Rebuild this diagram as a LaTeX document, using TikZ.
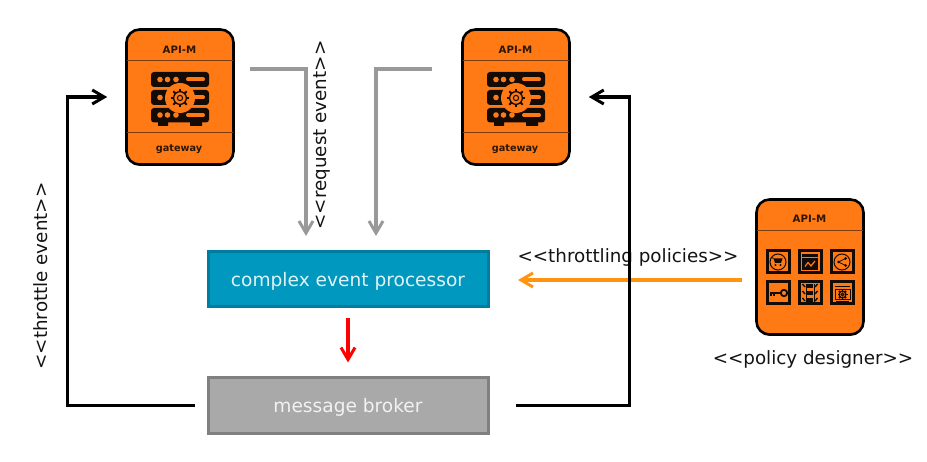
\documentclass[tikz,border=0pt]{standalone}
\usepackage{fontspec}
\setmainfont{DejaVu Sans}
\usetikzlibrary{arrows.meta,shadows}
\definecolor{apiorange}{HTML}{FF7A14}
\definecolor{icondark}{HTML}{140B05}
\definecolor{cepfill}{HTML}{0098BF}
\definecolor{cepline}{HTML}{007D9E}
\definecolor{brokerfill}{HTML}{A9A9A9}
\definecolor{brokerline}{HTML}{808080}
\definecolor{flowgrey}{HTML}{999999}
\definecolor{floworange}{HTML}{FF9411}
\tikzset{
  apibox/.style={draw=black,fill=apiorange,line width=2.6pt,rounded corners=13pt,minimum width=107pt,minimum height=135pt,inner sep=0pt,
    drop shadow={shadow xshift=0pt,shadow yshift=-1.5pt,opacity=.45,fill=black}},
  apititle/.style={font=\fontsize{10.2}{12}\bfseries\selectfont,text=icondark!90!apiorange,inner sep=0pt},
  apifoot/.style={apititle,font=\fontsize{9.7}{12}\bfseries\selectfont},
  procbox/.style={minimum width=280pt,minimum height=55pt,line width=3pt,inner sep=0pt},
  proclabel/.style={font=\fontsize{18.6}{22}\selectfont,inner sep=0pt},
  caption/.style={font=\fontsize{18.3}{22}\selectfont,text=black!92,inner sep=0pt},
  flow/.style={line width=3.2pt,-{Straight Barb[length=12pt,width=14pt,line width=3pt]}},
  greyflow/.style={flow,color=flowgrey},
  blackflow/.style={flow,color=black},
  tileicon/.style={draw=icondark,line width=3pt},
  fineline/.style={draw=icondark,line width=1pt},
  divider/.style={draw=icondark!55!apiorange,line width=1pt},
}
\newcommand{\gearart}[3]{% x y r
  \foreach \a in {0,45,...,315}{\draw[icondark,line width=1.8pt] (#1,#2)++(\a:#3*0.75) -- ++(\a:#3*0.5);}
  \draw[icondark,line width=1.3pt,fill=apiorange] (#1,#2) circle[radius=#3*0.85];
  \draw[icondark,line width=1pt] (#1,#2) circle[radius=#3*0.35];
}
\newcommand{\serverart}[2]{% origin = left-top of box
  \begin{scope}[shift={(#1,#2)}]
    \foreach \ya/\yb in {43/58,61/76,79/93.5}{\fill[icondark,rounded corners=3pt] (25,\ya) rectangle (83,\yb);}
    \fill[icondark] (32,93) rectangle (42,97) (64,93) rectangle (76,97);
    \foreach \yy in {50.5,86}{
      \foreach \xx in {34,41.5,50}{\fill[apiorange] (\xx,\yy) circle[radius=2.8];}
      \draw[apiorange,line width=4pt,line cap=round] (62,\yy) -- (77,\yy);
    }
    \fill[apiorange] (34,68.5) circle[radius=2.8];
    \draw[apiorange,line width=4pt,line cap=round] (62,68.5) -- (77,68.5);
    \fill[apiorange] (54,69) circle[radius=15];
    \gearart{54}{69}{7.5}
  \end{scope}
}
\begin{document}
\begin{tikzpicture}[x=1pt,y=-1pt]
\useasboundingbox (0,0) rectangle (927,462);
\fill[white] (0,0) rectangle (927,462);

% flows drawn beneath the text and the black connectors
\coordinate (pdout) at (742,280);
\coordinate (cepin) at (518,280);
\draw[flow,color=floworange] (pdout) -- (cepin);

% gateways
\node[apibox] (gw1) at (180,97) {};
\node[apibox] (gw2) at (516,97) {};
\node[apibox] (pd) at (810,267) {};

\foreach \g/\ox in {gw1/126,gw2/462}{
  \draw[divider] (\ox+1,61) -- (\ox+107,61);
  \draw[divider] (\ox+1,133) -- (\ox+107,133);
  \serverart{\ox}{29}
}
\node[apititle] (t1) at (179.5,49.5) {API-M};
\node[apifoot] (b1) at (179,149) {gateway};
\node[apititle] (t2) at (515.5,49.5) {API-M};
\node[apifoot] (b2) at (515,149) {gateway};

% policy designer
\draw[divider] (757,231) -- (863,231);
\node[apititle] (t3) at (809.5,219) {API-M};
\foreach \x/\y in {767/251,799/251,831/251,767/282,799/282,831/282}{
  \draw[tileicon] (\x,\y) rectangle ++(22,22);
}
% cart
\draw[fineline] (778,262) circle[radius=8];
\fill[icondark] (773.5,258.5) -- (782.5,258.5) -- (781,263) -- (775,263) -- cycle;
\draw[icondark,line width=.9pt] (771.5,257.5) -- (773.5,258.5);
\fill[icondark] (775.5,265) circle[radius=1.1] (780.5,265) circle[radius=1.1];
% browser with chart
\fill[icondark] (802,254) rectangle (818,270);
\draw[apiorange,line width=.8pt] (802,257.5) -- (818,257.5);
\draw[apiorange,line width=1.2pt] (805,266.5) -- (808,262.5) -- (811,266) -- (815,261);
% share
\draw[fineline] (842,262) circle[radius=8];
\fill[icondark] (838.5,262) circle[radius=1.5] (845.5,258.5) circle[radius=1.5] (845.5,265.5) circle[radius=1.5];
\draw[icondark,line width=.7pt] (845.5,258.5) -- (838.5,262) -- (845.5,265.5);
% key
\draw[icondark,line width=1.8pt] (784,293) circle[radius=3.2];
\draw[icondark,line width=2.2pt] (780.5,293) -- (770,293);
\draw[icondark,line width=1.4pt] (771,293) -- (771,296) (774,293) -- (774,296);
% grid panel
\foreach \yy in {286,293,300}{
  \fill[icondark] (807,\yy-2) rectangle (813,\yy+2);
  \draw[icondark,line width=1.4pt] (802.5,\yy-2) -- (805,\yy+1) (815,\yy+1) -- (817.5,\yy-2);
}
\draw[icondark,line width=1pt] (806,284) -- (806,302) (814,284) -- (814,302);
% gear panel
\draw[icondark,line width=1.6pt] (834.5,286.5) -- (850,286.5);
\draw[icondark,line width=1pt] (835,290) rectangle (850,300);
\draw[icondark,line width=1.4pt] (836,302) -- (849,302);
\gearart{842.5}{294.5}{4}

% processors
\node[procbox,draw=cepline,fill=cepfill] (cep) at (348,279.5) {};
\node[proclabel,text=white!88!cepfill] (ceptext) at (348,281) {complex event processor};
\node[procbox,draw=brokerline,fill=brokerfill] (broker) at (348,405.5) {};
\node[proclabel,text=white!85!brokerfill] (brokertext) at (348,407) {message broker};

% grey flows
\coordinate (g1out) at (250,69);
\coordinate (g2out) at (432,69);
\coordinate (c1) at (306,236);
\coordinate (c2) at (376,236);
\draw[greyflow] (g1out) -| (c1);
\draw[greyflow] (g2out) -| (c2);

% red flow
\draw[flow,color=red,shorten <=10pt,shorten >=14pt] (cep.south) -- (broker.north);

% labels
\node[caption,rotate=90] (reqlabel) at (322,135) {<{}<request event>{}>};
\node[caption,rotate=90] (thrlabel) at (41,276) {<{}<throttle event>{}>};
\node[caption] (pollabel) at (628,257) {<{}<throttling policies>{}>};
\node[caption] (deslabel) at (813,359) {<{}<policy designer>{}>};

% black flows
\draw[blackflow,shorten <=12pt,shorten >=18pt,line join=miter] (broker.west) -- ++(-139,0) |- (gw1.west);
\draw[blackflow,shorten <=26pt,shorten >=18pt,line join=miter] (broker.east) -- ++(140,0) |- (gw2.east);
\end{tikzpicture}
\end{document}
